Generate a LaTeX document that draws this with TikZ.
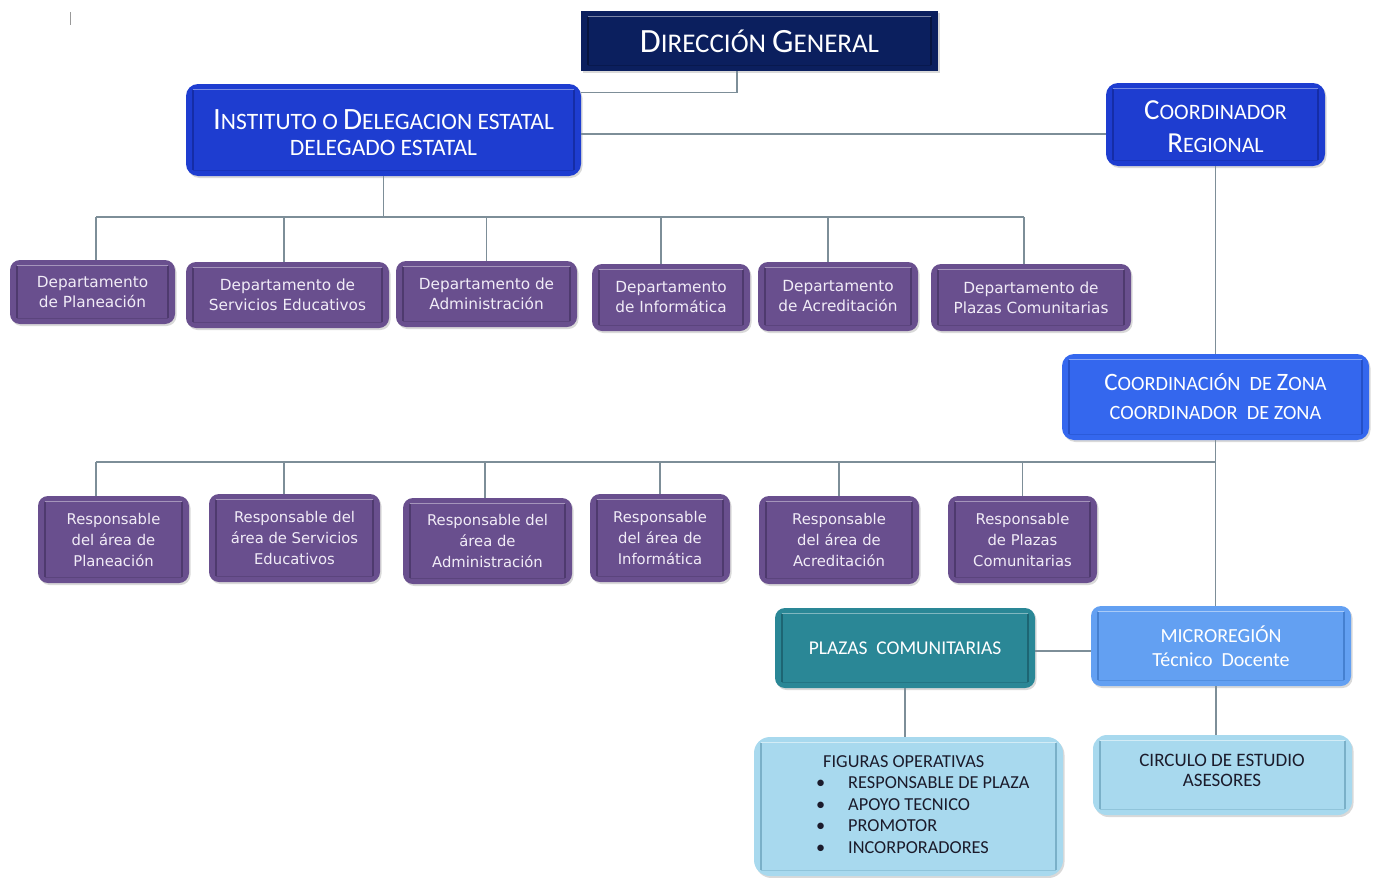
\documentclass[tikz,border=0pt]{standalone}
\usepackage{fontspec}
\setmainfont{Carlito}
\newfontfamily\dpfont{DejaVu Sans}
\usetikzlibrary{shadows}
\definecolor{navy}{HTML}{0B1F5E}
\definecolor{navyin}{HTML}{061440}
\definecolor{royal}{HTML}{1E3DD0}
\definecolor{royalin}{HTML}{152DA6}
\definecolor{zonab}{HTML}{3467EE}
\definecolor{zonain}{HTML}{2450C8}
\definecolor{purp}{HTML}{694F8E}
\definecolor{purpin}{HTML}{4E3A6E}
\definecolor{teal1}{HTML}{2A8796}
\definecolor{tealin}{HTML}{1D6573}
\definecolor{micro}{HTML}{63A0F2}
\definecolor{microin}{HTML}{4580D0}
\definecolor{pale}{HTML}{A8D9EE}
\definecolor{palein}{HTML}{7AB0C8}
\definecolor{conn}{HTML}{7D8E98}
\definecolor{ptext}{HTML}{F1ECF7}
\definecolor{dtext}{HTML}{1B1B2B}
\newcommand\Lc[2]{{\fontsize{#1}{#1}\selectfont #2}}
\tikzset{
  orgbox/.style={draw=none, fill=#1, rounded corners=10pt, align=center, text=white,
    drop shadow={opacity=0.3, shadow xshift=1.5pt, shadow yshift=-2pt}},
  bevel/.style 2 args={path picture={
    \draw[draw=#1, line width=1.3pt, sharp corners]
      ([shift={(7pt,-6pt)}]path picture bounding box.north west) --
      ([shift={(7pt,6pt)}]path picture bounding box.south west)
      ([shift={(-7pt,-6pt)}]path picture bounding box.north east) --
      ([shift={(-7pt,6pt)}]path picture bounding box.south east);
    \draw[draw=#1, opacity=0.5, line width=0.8pt, sharp corners]
      ([shift={(7pt,6pt)}]path picture bounding box.south west) --
      ([shift={(-7pt,6pt)}]path picture bounding box.south east);
    \draw[draw=#2, line width=1.1pt, sharp corners]
      ([shift={(7pt,-5.5pt)}]path picture bounding box.north west) --
      ([shift={(-7pt,-5.5pt)}]path picture bounding box.north east);}},
  deptbox/.style={orgbox=purp, bevel={purpin}{purp!60!white}, text=ptext,
    font=\dpfont\fontsize{15.3}{20}\selectfont},
  respbox/.style={orgbox=purp, bevel={purpin}{purp!60!white}, text=ptext,
    font=\dpfont\fontsize{14.8}{21}\selectfont},
  link/.style={draw=conn, line width=1.1pt},
}
\begin{document}
\begin{tikzpicture}[x=1pt,y=-1pt]
\useasboundingbox (0,0) rectangle (1376,878);
% small cursor mark
\draw[gray!80, line width=0.8pt] (70,12) -- (70,25);

% top level
\node[orgbox=navy, bevel={navyin}{navy!55!white}, rounded corners=0pt, minimum width=357pt, minimum height=60pt,
  font=\fontsize{27}{28}\selectfont] (dg) at (759.5,41)
  {\rule{0pt}{23pt}\Lc{34}{D}IRECCIÓN \Lc{34}{G}ENERAL};
\node[orgbox=royal, bevel={royalin}{royal!60!white}, rounded corners=12pt, minimum width=395pt, minimum height=92pt,
  font=\fontsize{23.5}{26}\selectfont] (inst) at (383.5,130)
  {\rule{0pt}{25pt}\Lc{31}{I}NSTITUTO O \Lc{31}{D}ELEGACION ESTATAL\\DELEGADO ESTATAL};
\node[orgbox=royal, bevel={royalin}{royal!60!white}, rounded corners=12pt, minimum width=219pt, minimum height=83pt,
  font=\fontsize{22}{33}\selectfont] (coord) at (1215.5,124.5)
  {\rule{0pt}{24pt}\Lc{29}{C}OORDINADOR\\\Lc{29}{R}EGIONAL};
\node[orgbox=zonab, bevel={zonain}{zonab!60!white}, rounded corners=12pt, minimum width=307pt, minimum height=86pt,
  font=\fontsize{20.3}{29}\selectfont] (zona) at (1215.5,397)
  {\Lc{25}{C}OORDINACIÓN\ \ DE \Lc{25}{Z}ONA\\COORDINADOR\ \ DE ZONA};

% departments
\node[deptbox, minimum width=165pt, minimum height=64pt] (d1) at (92.5,292) {Departamento\\de Planeación};
\node[deptbox, minimum width=203pt, minimum height=66pt] (d2) at (287.5,295) {Departamento de\\Servicios Educativos};
\node[deptbox, minimum width=181pt, minimum height=66pt] (d3) at (486.5,294) {Departamento de\\Administración};
\node[deptbox, minimum width=158pt, minimum height=67pt] (d4) at (671,297.5) {Departamento\\de Informática};
\node[deptbox, minimum width=160pt, minimum height=69pt] (d5) at (838,296.5) {Departamento\\de Acreditación};
\node[deptbox, minimum width=200pt, minimum height=67pt] (d6) at (1031,297.5) {Departamento de\\Plazas Comunitarias};

% responsables
\node[respbox, minimum width=151pt, minimum height=87pt] (r1) at (113.5,539.5) {Responsable\\del área de\\Planeación};
\node[respbox, minimum width=171pt, minimum height=88pt] (r2) at (294.5,538) {Responsable del\\área de Servicios\\Educativos};
\node[respbox, minimum width=169pt, minimum height=86pt] (r3) at (487.5,541) {Responsable del\\área de\\Administración};
\node[respbox, minimum width=140pt, minimum height=88pt] (r4) at (660,538) {Responsable\\del área de\\Informática};
\node[respbox, minimum width=160pt, minimum height=88pt] (r5) at (839,540) {Responsable\\del área de\\Acreditación};
\node[respbox, minimum width=149pt, minimum height=87pt] (r6) at (1022.5,539.5) {Responsable\\de Plazas\\Comunitarias};

% lower part
\node[orgbox=teal1, bevel={tealin}{teal1!60!white}, minimum width=260pt, minimum height=80pt,
  font=\fontsize{19.5}{20}\selectfont] (plazas) at (905,648) {PLAZAS\ \ COMUNITARIAS};
\node[orgbox=micro, bevel={microin}{micro!55!white}, minimum width=260pt, minimum height=80pt,
  font=\fontsize{20}{24}\selectfont] (micro) at (1221,646) {MICROREGIÓN\\Técnico\ \ Docente};
\node[orgbox=pale, bevel={palein}{pale!50!white}, rounded corners=16pt, minimum width=309pt, minimum height=139pt] (figbox) at (908.5,806.5) {};
\node[anchor=north west, inner sep=0pt, text=dtext, font=\fontsize{18.3}{21.5}\selectfont] (figtxt) at (816,752)
  {\begin{tabular}{@{}l@{}l@{}}
   \multicolumn{2}{@{}l@{}}{\hspace{7pt}FIGURAS OPERATIVAS}\\
   \makebox[32pt][l]{\textbullet} & RESPONSABLE DE PLAZA\\
   \makebox[32pt][l]{\textbullet} & APOYO TECNICO\\
   \makebox[32pt][l]{\textbullet} & PROMOTOR\\
   \makebox[32pt][l]{\textbullet} & INCORPORADORES
   \end{tabular}};
\node[orgbox=pale, bevel={palein}{pale!50!white}, rounded corners=14pt, minimum width=259pt, minimum height=80pt] (circ) at (1222.5,775) {};
\node[align=center, text=dtext, font=\fontsize{19}{20}\selectfont] (circtxt) at (1222,770)
  {CIRCULO DE ESTUDIO\\ASESORES};

% connectors
\coordinate (busA) at (385,217);
\coordinate (busB) at (1215,462);
\draw[link] ([xshift=-22.5pt]dg.south) |- ([yshift=-9pt]inst.north east);
\draw[link] ([yshift=-4pt]inst.east) -- ([yshift=-4pt]inst.east -| coord.west);
\draw[link] (coord.south) -- (zona.north);
\draw[link] (inst.south) -- (inst.south |- busA);
\draw[link] ([xshift=3.5pt]d1.north |- busA) -- ([xshift=-7pt]d6.north |- busA);
\draw[link] ([xshift=3.5pt]d1.north |- busA) -- ([xshift=3.5pt]d1.north);
\draw[link] ([xshift=-3.5pt]d2.north |- busA) -- ([xshift=-3.5pt]d2.north);
\draw[link] (d3.north |- busA) -- (d3.north);
\draw[link] ([xshift=-10pt]d4.north |- busA) -- ([xshift=-10pt]d4.north);
\draw[link] ([xshift=-10pt]d5.north |- busA) -- ([xshift=-10pt]d5.north);
\draw[link] ([xshift=-7pt]d6.north |- busA) -- ([xshift=-7pt]d6.north);
\draw[link] (zona.south) -- (zona.south |- micro.north);
\draw[link] ([xshift=-17.5pt]r1.north |- busB) -- (zona.south |- busB);
\draw[link] ([xshift=-17.5pt]r1.north |- busB) -- ([xshift=-17.5pt]r1.north);
\draw[link] ([xshift=-10.5pt]r2.north |- busB) -- ([xshift=-10.5pt]r2.north);
\draw[link] ([xshift=-2.5pt]r3.north |- busB) -- ([xshift=-2.5pt]r3.north);
\draw[link] (r4.north |- busB) -- (r4.north);
\draw[link] (r5.north |- busB) -- (r5.north);
\draw[link] (r6.north |- busB) -- (r6.north);
\draw[link] ([yshift=-3pt]plazas.east) -- ([yshift=-3pt]plazas.east -| micro.west);
\draw[link] (plazas.south) -- (plazas.south |- figbox.north);
\draw[link] ([xshift=-5pt]micro.south) -- ([xshift=-5pt]micro.south |- circ.north);
\end{tikzpicture}
\end{document}
